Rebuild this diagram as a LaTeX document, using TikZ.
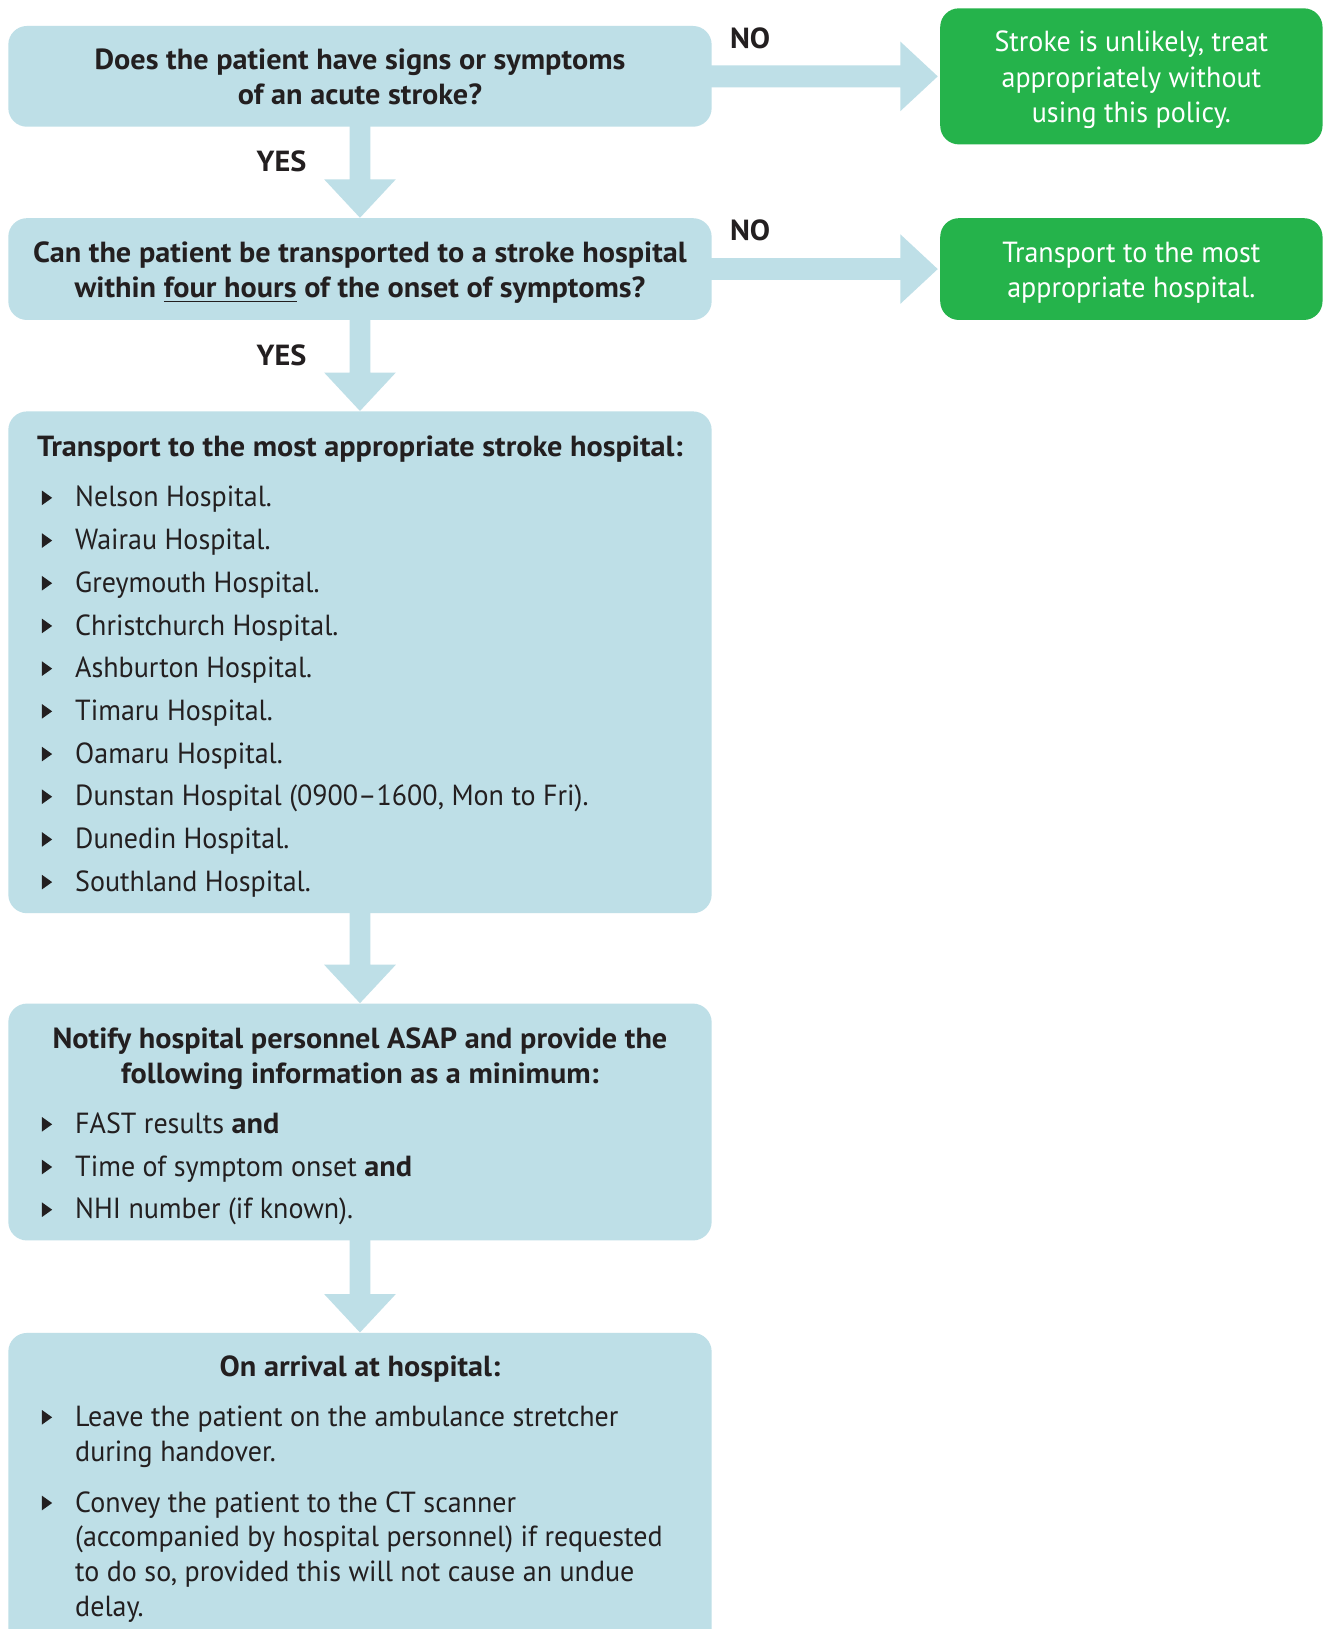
\documentclass[tikz,border=0pt]{standalone}
\usepackage{fontspec}
\setmainfont{PT Sans}[UprightFeatures={FakeStretch=0.963},BoldFeatures={FakeStretch=1.04}]
\usetikzlibrary{calc}
\definecolor{lb}{RGB}{190,223,231}
\definecolor{gr}{RGB}{37,179,75}
\definecolor{tx}{RGB}{35,31,32}
\newcommand\tri{\tikz[x=1pt,y=1pt,baseline=0pt]\fill[tx] (0,0.9) -- (0,7.9) -- (4.9,4.4) -- cycle;}
\newcommand\bul[1]{\makebox[16pt][l]{\tri}#1}
\newcommand\darr[2]{\fill[lb] ($(#1.south)+(-10,-2)$) -- ($(#2.north)+(-10,-37)$) -- ($(#2.north)+(-34.5,-37)$) -- (#2.north) -- ($(#2.north)+(34.5,-37)$) -- ($(#2.north)+(10,-37)$) -- ($(#1.south)+(10,-2)$) -- cycle;}
\newcommand\rarr[2]{\fill[lb] ($(#1.east)+(-2,-10.5)$) -- ($(#2.west)+(-38,-10.5)$) -- ($(#2.west)+(-38,-33.5)$) -- ($(#2.west)+(-2,0)$) -- ($(#2.west)+(-38,33.5)$) -- ($(#2.west)+(-38,10.5)$) -- ($(#1.east)+(-2,10.5)$) -- cycle;}
\begin{document}
\begin{tikzpicture}[x=0.5pt,y=-0.5pt,
  font=\fontsize{14}{16.75}\selectfont,
  bluebox/.style={fill=lb, rounded corners=9pt, inner sep=0pt, minimum width=338.5pt},
  greenbox/.style={fill=gr, rounded corners=9pt, inner sep=0pt, minimum width=184pt},
  lab/.style={anchor=base, inner sep=0pt, text=tx, font=\fontsize{14}{16.75}\selectfont\bfseries},
  txt/.style={anchor=base, inner sep=0pt, text=tx},
  wtxt/.style={anchor=base, inner sep=0pt, text=white}]
\clip (0,0) rectangle (1276,1568);
\fill[white] (0,0) rectangle (1276,1568);
% boxes
\node[bluebox, minimum height=48.5pt] (b1) at (346.5,73.5) {};
\node[bluebox, minimum height=49pt] (b2) at (346.5,259) {};
\node[bluebox, minimum height=241.5pt] (b3) at (346.5,637.5) {};
\node[bluebox, minimum height=114pt] (b4) at (346.5,1080) {};
\node[bluebox, minimum height=158.5pt] (b5) at (346.5,1441.5) {};
\node[greenbox, minimum height=65.5pt] (g1) at (1089,73.5) {};
\node[greenbox, minimum height=49pt] (g2) at (1089,259) {};
% connectors
\darr{b1}{b2}
\darr{b2}{b3}
\darr{b3}{b4}
\darr{b4}{b5}
\rarr{b1}{g1}
\rarr{b2}{g2}
% labels
\node[lab] (yes1) at (271,165.5) {YES};
\node[lab] (yes2) at (271,351.5) {YES};
\node[lab] (no1) at (722,46.5) {NO};
\node[lab] (no2) at (722,231.5) {NO};
% box texts
\node[txt] (t1) at (346.5,67) {\parbox[t]{338pt}{\centering\bfseries Does the patient have signs or symptoms\\of an acute stroke?}};
\node[txt] (t2) at (346.5,253) {\parbox[t]{338pt}{\centering\bfseries Can the patient be transported to a stroke hospital\\within \underline{four hours} of the onset of symptoms?}};
\node[wtxt] (tg1) at (1089,50) {\parbox[t]{184pt}{\centering\baselineskip=17pt Stroke is unlikely, treat\\appropriately without\\using this policy.}};
\node[wtxt] (tg2) at (1089,253) {\parbox[t]{184pt}{\centering Transport to the most\\appropriate hospital.}};
\node[txt] (t3) at (346.5,439) {\bfseries Transport to the most appropriate stroke hospital:};
\node[txt, anchor=base west] (l3) at (40,488) {\parbox[t]{310pt}{\baselineskip=20.55pt
\bul{Nelson Hospital.}\par
\bul{Wairau Hospital.}\par
\bul{Greymouth Hospital.}\par
\bul{Christchurch Hospital.}\par
\bul{Ashburton Hospital.}\par
\bul{Timaru Hospital.}\par
\bul{Oamaru Hospital.}\par
\bul{Dunstan Hospital (0900--1600, Mon to Fri).}\par
\bul{Dunedin Hospital.}\par
\bul{Southland Hospital.}}};
\node[txt] (t4) at (346.5,1009) {\parbox[t]{338pt}{\centering\bfseries Notify hospital personnel ASAP and provide the\\following information as a minimum:}};
\node[txt, anchor=base west] (l4) at (40,1091) {\parbox[t]{310pt}{\baselineskip=20.55pt
\bul{FAST results \textbf{and}}\par
\bul{Time of symptom onset \textbf{and}}\par
\bul{NHI number (if known).}}};
\node[txt] (t5) at (346.5,1325) {\bfseries On arrival at hospital:};
\node[txt, anchor=base west] (l5) at (40,1373) {\parbox[t]{318pt}{\baselineskip=16.75pt\hangindent=16pt\hangafter=1
\bul{Leave the patient on the ambulance stretcher\\during handover.}\par\vspace{7.75pt}\hangindent=16pt\hangafter=1
\bul{Convey the patient to the CT scanner\\(accompanied by hospital personnel) if requested\\to do so, provided this will not cause an undue\\delay.}}};
\end{tikzpicture}
\end{document}
